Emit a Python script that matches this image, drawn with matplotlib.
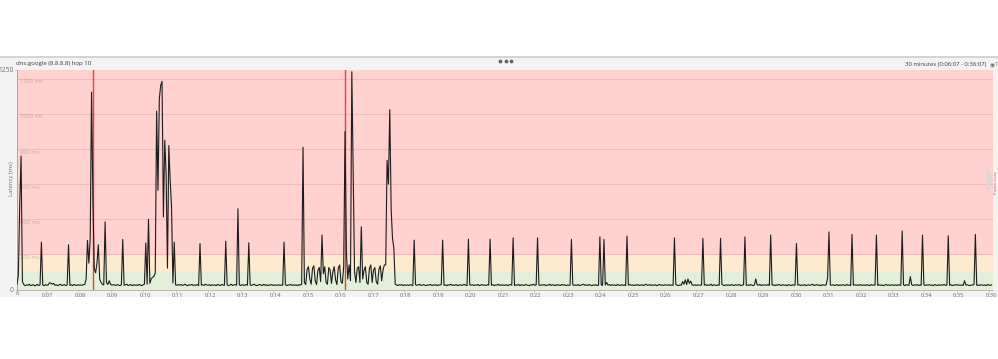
import matplotlib
matplotlib.use("Agg")
import matplotlib.pyplot as plt
from matplotlib.lines import Line2D
from matplotlib.patches import Polygon, Rectangle
from matplotlib.transforms import ScaledTranslation
import numpy as np

W, H = 998, 359

# time window: 0:06:07 -> 0:36:07, one sample every 2.5 s (24 per minute)
start_s = 367
end_s = 2167
interval_s = 2.5

# latency in ms, one row per minute of samples
latency_rows = [
    [30, 80, 480, 760, 45, 28, 22, 26, 24, 30, 22, 25, 27, 21, 24, 29, 23, 26, 270, 25, 22, 28, 24, 26],
    [38, 36, 30, 35, 24, 27, 22, 26, 30, 23, 25, 28, 22, 26, 255, 24, 27, 22, 29, 25, 23, 27, 24, 26],
    [24, 27, 30, 60, 280, 150, 290, 1124, 490, 120, 95, 150, 255, 60, 40, 30, 26, 385, 40, 28, 50, 30, 25, 27],
    [26, 23, 28, 25, 22, 27, 285, 24, 26, 30, 23, 25, 28, 22, 27, 24, 26, 23, 29, 25, 22, 27, 30, 265],
    [30, 400, 35, 60, 70, 75, 94, 1016, 565, 1086, 1162, 1185, 413, 850, 662, 122, 820, 622, 470, 37, 270, 26, 24, 28],
    [25, 28, 23, 26, 30, 24, 22, 27, 25, 29, 23, 26, 24, 28, 22, 262, 25, 27, 23, 30, 26, 24, 28, 22],
    [27, 24, 26, 22, 29, 25, 23, 28, 26, 24, 275, 27, 22, 25, 30, 23, 26, 28, 24, 460, 26, 23, 27, 25],
    [24, 28, 25, 266, 26, 23, 27, 30, 24, 22, 26, 28, 25, 23, 29, 24, 27, 22, 26, 25, 28, 23, 26, 24],
    [25, 27, 23, 26, 24, 270, 28, 22, 26, 25, 29, 23, 27, 24, 26, 22, 28, 25, 30, 810, 40, 28, 115, 130],
    [60, 30, 120, 135, 50, 28, 110, 125, 45, 310, 90, 130, 40, 30, 125, 110, 35, 100, 130, 55, 28, 120, 140, 45],
    [35, 130, 900, 215, 60, 140, 50, 1240, 680, 100, 40, 120, 130, 40, 357, 60, 110, 130, 40, 30, 120, 140, 40, 110],
    [125, 45, 30, 115, 135, 50, 110, 140, 140, 736, 600, 1024, 461, 293, 236, 30, 26, 23, 27, 25, 28, 22, 26, 24],
    [26, 23, 28, 25, 22, 281, 27, 24, 26, 30, 23, 25, 28, 24, 22, 27, 25, 29, 23, 26, 24, 28, 22, 26],
    [25, 28, 281, 24, 26, 22, 27, 25, 30, 23, 26, 24, 28, 22, 25, 27, 23, 26, 29, 24, 22, 287, 26, 25],
    [27, 23, 26, 24, 29, 22, 25, 28, 24, 26, 23, 27, 25, 287, 24, 28, 22, 26, 25, 30, 23, 27, 24, 26],
    [24, 27, 22, 26, 28, 25, 294, 23, 26, 24, 29, 22, 27, 25, 23, 28, 26, 24, 22, 27, 25, 30, 24, 26],
    [294, 26, 23, 27, 25, 28, 22, 26, 24, 30, 23, 27, 25, 22, 28, 24, 26, 23, 29, 25, 27, 22, 26, 24],
    [25, 285, 27, 23, 26, 24, 28, 22, 25, 27, 30, 24, 26, 23, 28, 25, 22, 26, 24, 27, 23, 25, 300, 26],
    [24, 285, 26, 40, 25, 28, 23, 27, 24, 26, 22, 29, 25, 23, 27, 24, 26, 22, 304, 25, 28, 24, 26, 23],
    [26, 24, 28, 23, 25, 27, 22, 26, 30, 24, 25, 28, 23, 26, 24, 27, 22, 25, 29, 24, 26, 23, 27, 25],
    [25, 27, 23, 26, 24, 294, 28, 25, 22, 26, 24, 45, 30, 55, 28, 60, 35, 48, 26, 24, 27, 23, 26, 25],
    [24, 26, 291, 25, 28, 23, 26, 24, 30, 22, 27, 25, 23, 26, 24, 291, 28, 25, 22, 27, 24, 26, 23, 28],
    [25, 23, 27, 24, 26, 28, 22, 25, 27, 300, 24, 26, 23, 28, 25, 22, 26, 60, 27, 24, 29, 23, 26, 25],
    [26, 24, 28, 23, 310, 25, 27, 22, 26, 24, 29, 25, 23, 27, 24, 26, 22, 28, 25, 23, 27, 24, 26, 262],
    [25, 27, 23, 26, 24, 28, 22, 25, 27, 24, 26, 30, 23, 25, 28, 24, 26, 22, 27, 25, 24, 28, 67, 328],
    [26, 24, 27, 23, 25, 28, 22, 26, 24, 27, 25, 23, 29, 24, 26, 22, 314, 25, 27, 24, 26, 23, 28, 25],
    [24, 26, 23, 27, 25, 22, 28, 24, 26, 25, 310, 23, 27, 24, 26, 22, 25, 28, 24, 26, 23, 27, 25, 24],
    [26, 23, 27, 25, 24, 334, 26, 22, 28, 25, 24, 73, 27, 23, 26, 25, 28, 22, 26, 24, 310, 27, 23, 26],
    [25, 27, 24, 26, 22, 28, 25, 23, 27, 24, 26, 25, 29, 23, 26, 306, 24, 27, 22, 26, 25, 28, 24, 26],
    [24, 26, 23, 50, 25, 27, 24, 22, 26, 25, 28, 314, 24, 26, 23, 27, 25, 24, 26, 22, 28, 25, 24, 26],
]
assert all(len(r) == 24 for r in latency_rows)

loss_times_s = [507.5, 972.5]          # packet loss markers
zone_edges_ms = [0, 100, 200, 1250]
zone_colors = ["#e2f0d9", "#fdebcf", "#ffd1cf"]
grid_ms = [200, 400, 600, 800, 1000, 1200]
tick_minutes = list(range(7, 37))

FONT = "Open Sans"
GRAY = "#6e6e6e"


def fx(px):
    return px / W


def fy(py):
    return 1 - py / H


latency = np.concatenate([np.array(r, dtype=float) for r in latency_rows])
times = start_s + interval_s * np.arange(len(latency))

fig = plt.figure(figsize=(W / 100, H / 100), dpi=100)
fig.patch.set_facecolor("white")

# panel background + header separator
fig.add_artist(Rectangle((0, fy(297)), 1, (297 - 57) / H, transform=fig.transFigure,
                         facecolor="#f3f3f3", edgecolor="none", zorder=0))
fig.add_artist(Line2D([0, 1], [fy(56.8), fy(56.8)], transform=fig.transFigure,
                      color="#cdcdcd", lw=1.2, zorder=1))
fig.add_artist(Line2D([fx(500), fx(505.7), fx(511)], [fy(61)] * 3, transform=fig.transFigure,
                      ls="none", marker="o", ms=1.7, color="#606060", zorder=2))

ax = fig.add_axes([fx(17), fy(289.5), (993 - 17) / W, (289.5 - 70) / H])
ax.set_xlim(start_s, end_s)
ax.set_ylim(zone_edges_ms[0], zone_edges_ms[-1])

for lo, hi, c in zip(zone_edges_ms[:-1], zone_edges_ms[1:], zone_colors):
    ax.axhspan(lo, hi, color=c, lw=0, zorder=0)
for g in grid_ms:
    ax.axhline(g, color="#f0bcba", lw=0.8, zorder=1)
    ax.text(start_s + 6, g - 17, f"{g} ms", fontsize=4.2, family=FONT,
            color="#a89090", alpha=0.6, va="center", ha="left", zorder=1)

for t in loss_times_s:
    ax.axvline(t, color="#e8403a", lw=1.0, zorder=3)

ax.plot(times, latency, color="#1c1c1c", lw=0.8, zorder=4)

ax.set_xticks([m * 60 for m in tick_minutes])
ax.set_xticklabels([f"0:{m:02d}" for m in tick_minutes], fontsize=4.2, family=FONT, color=GRAY)
ax.tick_params(axis="x", length=1.5, width=0.5, color="#b5b5b5", pad=1)
for lbl in ax.get_xticklabels():
    lbl.set_transform(lbl.get_transform() + ScaledTranslation(0.02, 0, fig.dpi_scale_trans))

ax.set_yticks([0, 1250])
ax.set_yticklabels(["0", "1250"], fontsize=4.8, family=FONT, color=GRAY)
ax.tick_params(axis="y", length=1.5, width=0.5, color="#b5b5b5", pad=1)

for side in ("top", "right"):
    ax.spines[side].set_visible(False)
ax.spines["left"].set_color("#a8a8a8")
ax.spines["bottom"].set_color("#b8b8b8")
ax.spines["left"].set_linewidth(0.7)
ax.spines["bottom"].set_linewidth(0.7)

# header texts
fig.text(fx(16), fy(63.5), "dns.google (8.8.8.8) hop 10", fontsize=4.3, family=FONT,
         color="#3c3c3c", ha="left", va="center")
fig.text(fx(986), fy(64.5), "30 minutes (0:06:07 - 0:36:07)", fontsize=4.3, family=FONT,
         color="#3c3c3c", ha="right", va="center")
fig.add_artist(Line2D([fx(991.5)], [fy(64.5)], transform=fig.transFigure, ls="none",
                      marker="o", ms=3.2, mfc="#e6e6e6", mec="#b0b0b0", mew=0.4))
fig.add_artist(Line2D([fx(991.5)], [fy(64.8)], transform=fig.transFigure, ls="none",
                      marker="v", ms=1.3, color="#707070"))
fig.text(fx(994.5), fy(64), "1", fontsize=3.6, family=FONT, color="#e0403a", ha="left", va="center")

fig.text(fx(11.5), fy(179), "Latency (ms)", fontsize=4.3, family=FONT, color=GRAY,
         rotation=90, ha="center", va="center")
fig.text(fx(17.5), fy(293.5), "6", fontsize=4.2, family=FONT, color=GRAY, ha="center", va="center")
fig.text(fx(994.3), fy(183), "Packet Loss", fontsize=3, family=FONT, color="#e0403a",
         rotation=90, ha="left", va="center")

# scroll arrow on the right edge
fig.add_artist(Polygon([[fx(986.5), fy(165)], [fx(993.5), fy(180)], [fx(986.5), fy(195)]],
                       closed=True, transform=fig.transFigure, facecolor="#d8d8d8",
                       edgecolor="none", alpha=0.8, zorder=5))

fig.savefig("out.png", dpi=100)
